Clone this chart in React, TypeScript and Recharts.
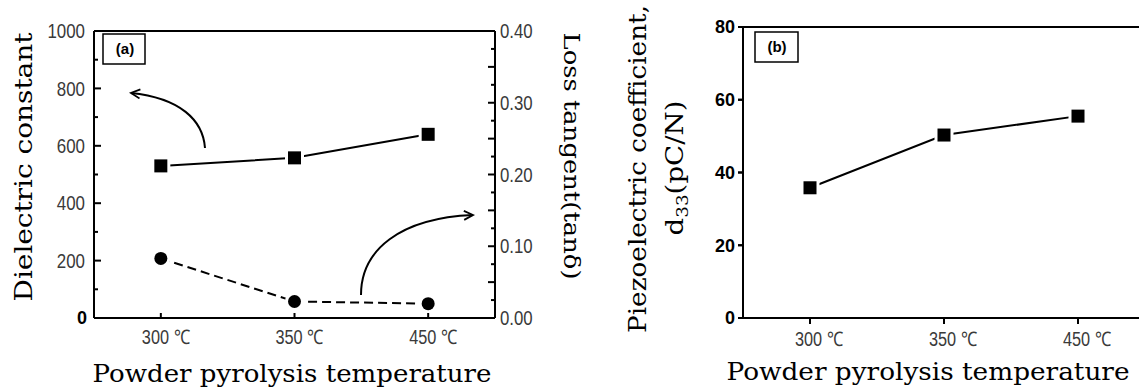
import React from "react";
import { LineChart, Line, XAxis, YAxis, ReferenceLine } from "recharts";

// values
const temps = ["300 ℃", "350 ℃", "450 ℃"];
const dielectric = [530, 558, 640];
const lossTangent = [0.083, 0.023, 0.02];
const d33 = [35.8, 50.3, 55.5];

const dielTicks = [0, 100, 200, 300, 400, 500, 600, 700, 800, 900, 1000];
const tanTicks = [
  0, 0.025, 0.05, 0.075, 0.1, 0.125, 0.15, 0.175, 0.2, 0.225, 0.25, 0.275, 0.3, 0.325, 0.35, 0.375, 0.4,
];
const d33Ticks = [0, 20, 40, 60, 80];
const xIdx = [0, 1, 2];

const dataA = temps.map((t, i) => ({ i, t, eps: dielectric[i], tan: lossTangent[i] }));
const dataB = temps.map((t, i) => ({ i, t, d: d33[i] }));

const sans = '"Liberation Sans", Arial, sans-serif';
const serif = '"DejaVu Serif", "Liberation Serif", serif';
const tickInk = "#3a3a3a";
const axisStyle = { stroke: "#000", strokeWidth: 2 };
const tickStyle = { stroke: "#000", strokeWidth: 2 };

// the original uses a condensed face; squeeze Liberation Sans to that width
const narrowWidth = (s: string) => s.replace(/[^0-9]/g, "").length * 9.4 + (s.includes(".") ? 4.5 : 0);

const Square = ({ cx, cy }: any) => (
  <g>
    <rect x={cx - 9.5} y={cy - 9.5} width={19} height={19} fill="#fff" />
    <rect x={cx - 6.5} y={cy - 6.5} width={13} height={13} fill="#000" />
  </g>
);

const Dot = ({ cx, cy }: any) => (
  <g>
    <circle cx={cx} cy={cy} r={9.5} fill="#fff" />
    <circle cx={cx} cy={cy} r={6.5} fill="#000" />
  </g>
);

const mark = (d: string) => <path d={d} stroke="#000" strokeWidth={2} fill="none" />;

function DielTick({ x, y, payload }: any) {
  const v = payload.value;
  const major = v % 200 === 0;
  const s = String(v);
  return (
    <g>
      {mark(`M${x},${y}h${major ? 7 : 4}`)}
      {major &&
        (v === 0 ? (
          <text x={x - 7} y={y} dy="0.36em" textAnchor="end" fontFamily={sans} fontWeight={700} fontSize={18} fill="#000">
            0
          </text>
        ) : (
          <text
            x={x - 9}
            y={y}
            dy="0.36em"
            textAnchor="end"
            fontFamily={sans}
            fontSize={20}
            fill={tickInk}
            textLength={narrowWidth(s)}
            lengthAdjust="spacingAndGlyphs"
          >
            {s}
          </text>
        ))}
    </g>
  );
}

function TanTick({ x, y, payload }: any) {
  const v = payload.value;
  const m = Math.round(v * 1000);
  const s = v.toFixed(2);
  return (
    <g>
      {mark(`M${x},${y}h${m % 50 === 0 ? -7 : -4}`)}
      {m % 100 === 0 && (
        <text
          x={x + 5}
          y={y}
          dy="0.36em"
          textAnchor="start"
          fontFamily={sans}
          fontSize={20}
          fill={tickInk}
          textLength={narrowWidth(s)}
          lengthAdjust="spacingAndGlyphs"
        >
          {s}
        </text>
      )}
    </g>
  );
}

// (b): tick marks come from the axis' own tickLine, x is already 8px left of the axis
function D33Tick({ x, y, payload }: any) {
  return (
    <g>
      {mark(`M${x + 3},${y}h5`)}
      <text x={x} y={y} dy="0.36em" textAnchor="end" fontFamily={sans} fontWeight={700} fontSize={18} fill="#000">
        {payload.value}
      </text>
    </g>
  );
}

const tempLabel = (x: number, y: number, v: number) => (
  <text
    x={x}
    y={y}
    textAnchor="middle"
    fontFamily={sans}
    fontSize={20}
    fill={tickInk}
    textLength={48}
    lengthAdjust="spacingAndGlyphs"
  >
    {temps[v]}
  </text>
);

const TempTickA = ({ x, y, payload }: any) => (
  <g>
    {mark(`M${x},${y}v-5`)}
    {tempLabel(x + 5, y + 26, payload.value)}
  </g>
);

const TempTickB = ({ x, y, payload }: any) => (
  <g>
    {mark(`M${x},${y - 6}v6`)}
    {tempLabel(x + 9, y + 22, payload.value)}
  </g>
);

const axisBase = { tickSize: 0, tickMargin: 0, tickLine: false, axisLine: axisStyle, interval: 0 as const };

export default function App() {
  return (
    <div style={{ position: "relative", width: 1139, height: 387, overflow: "hidden", background: "#fff" }}>
      <style>{"body{margin:0}"}</style>

      {/* (a) dielectric constant + loss tangent */}
      <div style={{ position: "absolute", left: 0, top: 0 }}>
        <LineChart width={600} height={387} data={dataA} margin={{ top: 31, right: 55, bottom: 39, left: 44 }}>
          <XAxis {...axisBase} type="number" dataKey="i" domain={[-0.5, 2.5]} ticks={xIdx} height={30} tick={<TempTickA />} />
          <YAxis {...axisBase} yAxisId="l" domain={[0, 1000]} ticks={dielTicks} width={50} tick={<DielTick />} />
          <YAxis
            {...axisBase}
            yAxisId="r"
            orientation="right"
            domain={[0, 0.4]}
            ticks={tanTicks}
            width={50}
            tick={<TanTick />}
          />
          <ReferenceLine yAxisId="l" y={1000} stroke="#000" strokeWidth={2} />
          <Line
            yAxisId="l"
            dataKey="eps"
            stroke="#000"
            strokeWidth={2}
            dot={(p: any) => <Square key={`s${p.index}`} {...p} />}
            isAnimationActive={false}
          />
          <Line
            yAxisId="r"
            dataKey="tan"
            stroke="#000"
            strokeWidth={2}
            strokeDasharray="9 5"
            dot={(p: any) => <Dot key={`c${p.index}`} {...p} />}
            isAnimationActive={false}
          />
        </LineChart>
      </div>

      {/* (b) piezoelectric coefficient */}
      <div style={{ position: "absolute", left: 600, top: 0 }}>
        <LineChart width={560} height={387} data={dataB} margin={{ top: 27, right: 15, bottom: 39, left: 93 }}>
          <XAxis
            type="number"
            dataKey="i"
            domain={[-0.5, 2.5]}
            ticks={xIdx}
            interval={0}
            height={30}
            tickSize={6}
            tickMargin={0}
            tickLine={tickStyle}
            axisLine={axisStyle}
            tick={<TempTickB />}
          />
          <YAxis
            domain={[0, 80]}
            ticks={d33Ticks}
            interval={0}
            width={50}
            tickSize={5}
            tickMargin={3}
            tickLine={tickStyle}
            axisLine={axisStyle}
            tick={<D33Tick />}
          />
          <ReferenceLine y={80} stroke="#000" strokeWidth={2} />
          <Line
            dataKey="d"
            stroke="#000"
            strokeWidth={2}
            dot={(p: any) => <Square key={`b${p.index}`} {...p} />}
            isAnimationActive={false}
          />
        </LineChart>
      </div>

      {/* titles, panel tags, arrows */}
      <svg width={1139} height={387} style={{ position: "absolute", left: 0, top: 0, pointerEvents: "none" }}>
        <defs>
          <marker id="head" markerUnits="userSpaceOnUse" markerWidth={14} markerHeight={12} refX={10} refY={5} orient="auto">
            <path d="M1,0.5 L10,5 L1,9.5" fill="none" stroke="#000" strokeWidth={1.8} />
          </marker>
        </defs>
        <path d="M205,148 C203,120 180,98 131,93" fill="none" stroke="#000" strokeWidth={2} markerEnd="url(#head)" />
        <path d="M361,295 C361,250 400,218 473,215" fill="none" stroke="#000" strokeWidth={2} markerEnd="url(#head)" />

        <rect x={103} y={34} width={42} height={30} fill="#fff" stroke="#000" strokeWidth={1.5} />
        <text x={125} y={54} textAnchor="middle" fontFamily={sans} fontWeight={700} fontSize={15}>
          (a)
        </text>
        <rect x={755} y={32} width={43} height={30} fill="#fff" stroke="#000" strokeWidth={1.5} />
        <text x={777} y={52} textAnchor="middle" fontFamily={sans} fontWeight={700} fontSize={15}>
          (b)
        </text>

        <text
          x={32}
          y={167}
          transform="rotate(-90 32 167)"
          textAnchor="middle"
          fontFamily={serif}
          fontSize={25}
          textLength={269}
          lengthAdjust="spacingAndGlyphs"
        >
          Dielectric constant
        </text>
        <text
          x={564}
          y={156}
          transform="rotate(90 564 156)"
          textAnchor="middle"
          fontFamily={serif}
          fontSize={23}
          textLength={247}
          lengthAdjust="spacingAndGlyphs"
        >
          Loss tangent(tanδ)
        </text>
        <text
          x={292}
          y={382}
          textAnchor="middle"
          fontFamily={serif}
          fontSize={24}
          textLength={399}
          lengthAdjust="spacingAndGlyphs"
        >
          Powder pyrolysis temperature
        </text>

        <text
          x={646}
          y={169}
          transform="rotate(-90 646 169)"
          textAnchor="middle"
          fontFamily={serif}
          fontSize={24}
          textLength={328}
          lengthAdjust="spacingAndGlyphs"
        >
          Piezoelectric coefficient,
        </text>
        <text
          x={683}
          y={168}
          transform="rotate(-90 683 168)"
          textAnchor="middle"
          fontFamily={serif}
          fontSize={24}
          textLength={135}
          lengthAdjust="spacingAndGlyphs"
        >
          d<tspan fontSize={16} dy={5}>33</tspan>
          <tspan dy={-5}>(pC/N)</tspan>
        </text>
        <text
          x={928}
          y={380}
          textAnchor="middle"
          fontFamily={serif}
          fontSize={24}
          textLength={403}
          lengthAdjust="spacingAndGlyphs"
        >
          Powder pyrolysis temperature
        </text>
      </svg>
    </div>
  );
}
